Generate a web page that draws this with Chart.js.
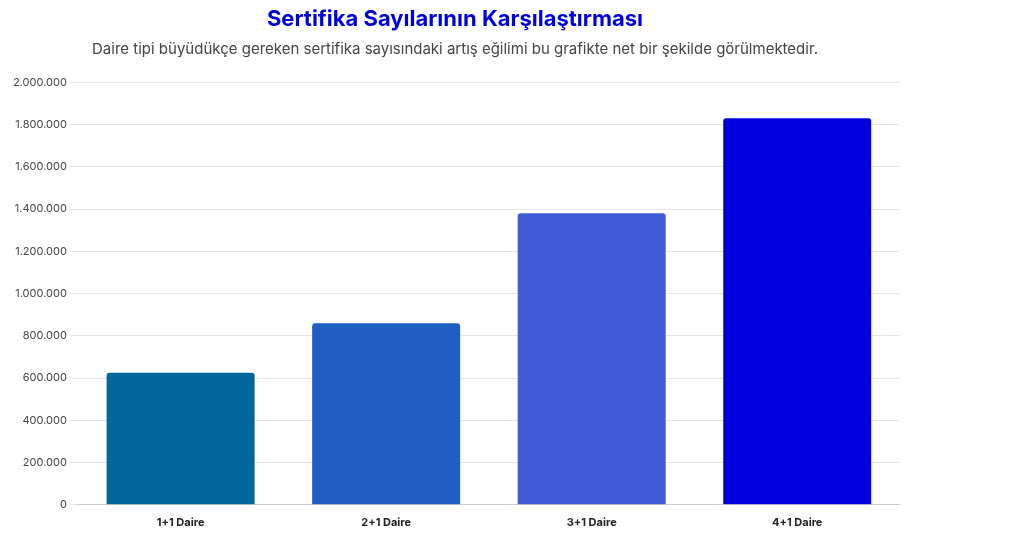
<!DOCTYPE html>
<html>
<head>
<meta charset="utf-8">
<script src="https://cdn.jsdelivr.net/npm/chart.js@4/dist/chart.umd.min.js"></script>
<style>
  html, body { margin: 0; padding: 0; background: #fff; }
  #wrap { width: 920px; height: 536px; }
</style>
</head>
<body>
<div id="wrap"><canvas id="chart"></canvas></div>
<script>
  // ---- Data ----
  const categories = ['1+1 Daire', '2+1 Daire', '3+1 Daire', '4+1 Daire'];
  const certCounts = [625000, 860000, 1380000, 1830000];
  const barColors = ['#006699', '#1f5fc4', '#415bd8', '#0000dd'];

  const fmt = (v) => v.toLocaleString('tr-TR');

  new Chart(document.getElementById('chart'), {
    type: 'bar',
    data: {
      labels: categories,
      datasets: [{
        data: certCounts,
        backgroundColor: barColors,
        borderRadius: 3,
        borderSkipped: 'bottom',
        barPercentage: 0.9,
        categoryPercentage: 0.8
      }]
    },
    options: {
      responsive: true,
      maintainAspectRatio: false,
      animation: false,
      layout: { padding: { left: 10, right: 20, bottom: 4, top: 2 } },
      plugins: {
        legend: { display: false },
        title: {
          display: true,
          text: 'Sertifika Sayılarının Karşılaştırması',
          color: '#0000dd',
          font: { family: 'Inter', size: 22, weight: 'bold' },
          padding: { top: 4, bottom: 8 }
        },
        subtitle: {
          display: true,
          text: 'Daire tipi büyüdükçe gereken sertifika sayısındaki artış eğilimi bu grafikte net bir şekilde görülmektedir.',
          color: '#444',
          font: { family: 'Inter', size: 15 },
          padding: { bottom: 24 }
        }
      },
      scales: {
        x: {
          grid: { display: false },
          ticks: { color: '#222', font: { family: 'Inter', size: 11, weight: 'bold' } }
        },
        y: {
          beginAtZero: true,
          min: 0,
          max: 2000000,
          ticks: {
            stepSize: 200000,
            color: '#444',
            font: { family: 'Inter', size: 11 },
            callback: (v) => fmt(v)
          },
          grid: { color: '#e5e5e5' },
          border: { display: false }
        }
      }
    }
  });
</script>
</body>
</html>
